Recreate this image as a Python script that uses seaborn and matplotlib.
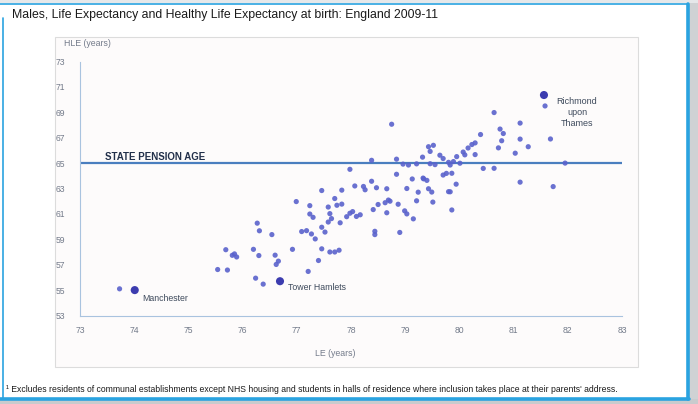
import matplotlib
matplotlib.use("Agg")
import matplotlib.pyplot as plt
from matplotlib.patches import Rectangle
import seaborn as sns
import pandas as pd

# Life expectancy (LE) and healthy life expectancy (HLE) at birth, males, by local authority
le = [73.73, 75.69, 75.81, 75.89, 75.85, 75.54, 75.72, 76.20, 76.27, 76.31, 76.24, 76.30,
      76.54, 76.60, 76.66, 76.62, 76.38, 76.92, 77.21, 76.99, 77.09, 77.18, 77.24, 77.24,
      77.30, 77.27, 77.34, 77.46, 77.46, 77.52, 77.46, 77.40, 77.58, 77.61, 77.58, 77.64,
      77.70, 77.74, 77.61, 77.70, 77.78, 77.83, 77.83, 77.80, 77.92, 77.98, 78.03, 78.07,
      78.10, 78.17, 78.23, 78.26, 78.38, 78.47, 78.41, 78.50, 78.44, 78.44, 78.63, 78.66,
      78.69, 78.66, 78.72, 78.90, 78.87, 78.99, 79.03, 79.03, 79.15, 79.21, 79.24, 79.43,
      79.49, 79.51, 79.34, 79.80,
      78.75, 77.98, 78.38, 78.84, 78.84, 79.13, 79.33, 79.40, 79.32, 79.43, 79.52, 79.46,
      79.64, 79.70, 79.80, 78.96, 79.06, 79.21, 79.46, 79.55, 79.70, 79.76,
      81.58, 80.64, 81.12, 81.68, 80.75, 80.81, 80.78, 80.39, 81.12, 80.72, 81.27, 81.03,
      80.29, 80.23, 80.16, 80.07, 80.29, 80.10, 79.95, 79.89, 80.01, 79.83, 79.86, 80.44,
      80.64, 81.95, 81.12, 79.94, 79.83, 79.86, 81.73]
hle = [55.10, 58.18, 57.74, 57.61, 57.85, 56.62, 56.58, 58.21, 60.27, 59.67, 55.94, 57.72,
       59.37, 57.75, 57.28, 57.02, 55.47, 58.21, 56.47, 61.97, 59.61, 59.68, 61.65, 60.99,
       60.73, 59.42, 59.03, 62.84, 59.95, 59.57, 58.25, 57.33, 61.54, 61.02, 60.36, 60.63,
       62.21, 61.68, 58.00, 58.00, 58.14, 62.87, 61.77, 60.30, 60.78, 61.05, 61.18, 63.20,
       60.80, 60.93, 63.16, 62.90, 63.57, 63.06, 61.34, 61.74, 59.63, 59.37, 61.88, 62.98,
       62.09, 61.09, 62.00, 59.54, 61.76, 61.24, 61.00, 63.00, 60.61, 62.03, 62.71, 62.98,
       62.72, 61.93, 63.76, 62.75,
       68.06, 64.51, 65.22, 65.31, 64.12, 63.75, 63.82, 63.64, 65.47, 66.29, 66.40, 65.92,
       65.62, 65.36, 65.06, 64.92, 64.85, 64.94, 64.95, 64.88, 64.06, 64.19,
       69.50, 68.98, 68.15, 66.90, 67.68, 67.33, 66.76, 67.25, 66.89, 66.20, 66.29, 65.78,
       66.59, 66.46, 66.19, 65.87, 65.67, 65.65, 65.51, 65.12, 64.99, 64.85, 64.20, 64.58,
       64.59, 65.00, 63.50, 63.34, 62.74, 61.31, 63.15]

named_areas = ["Manchester", "Tower Hamlets", "Richmond\nupon\nThames"]
named_le = [74.01, 76.69, 81.56]
named_hle = [55.00, 55.70, 70.36]

state_pension_age = 65
x_ticks = list(range(73, 84))
y_ticks = list(range(53, 74, 2))

sns.set_theme(style="white")
plt.rcParams["font.family"] = ["Liberation Sans", "DejaVu Sans"]

W, H = 698, 404
fig = plt.figure(figsize=(W / 100, H / 100), dpi=100)
fig.patch.set_facecolor("white")


def fx(px):
    return px / W


def fy(py):
    return 1 - py / H


# page frame: grey surround with a blue border
fig.patches.append(Rectangle((fx(689), 0), fx(9), 1, transform=fig.transFigure,
                             facecolor="#cfd2d4", edgecolor="none", zorder=0))
fig.patches.append(Rectangle((0, 0), 1, (H - 399) / H, transform=fig.transFigure,
                             facecolor="#c9cbcd", edgecolor="none", zorder=0))
fig.patches.append(Rectangle((0, fy(3)), 1, 3 / H, transform=fig.transFigure,
                             facecolor="#e6e8ea", edgecolor="none", zorder=0))
border = "#2aa3e0"
fig.lines.append(plt.Line2D([fx(0), fx(688)], [fy(4), fy(4)], transform=fig.transFigure,
                            color=border, lw=1.2))
fig.lines.append(plt.Line2D([fx(2.5), fx(2.5)], [fy(18), fy(398)], transform=fig.transFigure,
                            color=border, lw=1.2))
fig.lines.append(plt.Line2D([fx(688), fx(688)], [fy(4), fy(399)], transform=fig.transFigure,
                            color=border, lw=2.6))
fig.lines.append(plt.Line2D([fx(0), fx(689)], [fy(398.5), fy(398.5)], transform=fig.transFigure,
                            color=border, lw=2.6))

# chart box
fig.patches.append(Rectangle((fx(55), fy(367)), fx(583), (367 - 37) / H,
                             transform=fig.transFigure, facecolor="#fdfbfb",
                             edgecolor="#dcdcdc", lw=0.8, zorder=1))

ax = fig.add_axes([fx(80), fy(315.5), fx(542), (315.5 - 61.5) / H])
ax.set_facecolor("none")
ax.set_zorder(5)

df = pd.DataFrame({"LE": le, "HLE": hle})
sns.scatterplot(data=df, x="LE", y="HLE", ax=ax, s=14, color="#5a62cc",
                edgecolor="none", alpha=0.9, zorder=3)
named_df = pd.DataFrame({"LE": named_le, "HLE": named_hle, "area": named_areas})
sns.scatterplot(data=named_df, x="LE", y="HLE", ax=ax, s=34, color="#3c3caf",
                edgecolor="none", zorder=4)

ax.axhline(state_pension_age, color="#4a7ebf", lw=1.6, zorder=2)
ax.text(73.46, state_pension_age + 0.12, "STATE PENSION AGE", fontsize=7, fontweight="bold",
        color="#22304a", ha="left", va="bottom")

label_color = "#3e4a5c"
ax.text(74.14, 54.3, "Manchester", fontsize=6.3, color=label_color, ha="left", va="center")
ax.text(76.84, 55.2, "Tower Hamlets", fontsize=6.3, color=label_color, ha="left", va="center")
ax.text(82.17, 69.0, "Richmond\nupon\nThames", fontsize=6.5, color=label_color,
        ha="center", va="center", linespacing=1.25)

ax.set_xlim(73, 83)
ax.set_ylim(53, 73)
ax.set_xticks(x_ticks)
ax.set_yticks(y_ticks)
ax.set_xlabel("")
ax.set_ylabel("")
for side in ("top", "right"):
    ax.spines[side].set_visible(False)
for side in ("left", "bottom"):
    ax.spines[side].set_color("#a9c3df")
    ax.spines[side].set_linewidth(0.8)
ax.tick_params(axis="both", which="major", length=2.5, width=0.6, color="#a9c3df",
               labelsize=6.2, labelcolor="#737b8a", direction="out", pad=8)
ax.tick_params(axis="x", pad=5)

fig.text(fx(64), fy(43), "HLE (years)", fontsize=6.3, color="#737b8a", ha="left", va="center")
fig.text(fx(335), fy(354), "LE (years)", fontsize=6.3, color="#737b8a", ha="center", va="center")

fig.text(fx(12), fy(15), "Males, Life Expectancy and Healthy Life Expectancy at birth: England 2009-11",
         fontsize=8.8, color="#1a1a1a", ha="left", va="center")
fig.text(fx(6), fy(389),
         "\u00b9 Excludes residents of communal establishments except NHS housing and students in "
         "halls of residence where inclusion takes place at their parents' address.",
         fontsize=6.2, color="#1a1a1a", ha="left", va="center")

fig.savefig("out.png", dpi=100)
